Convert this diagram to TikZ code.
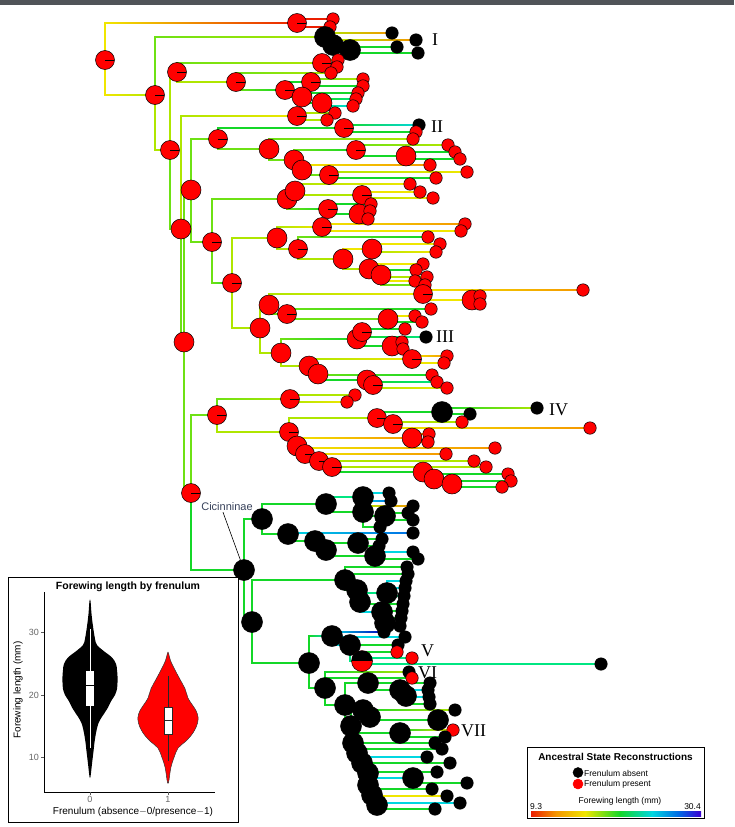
\documentclass[tikz,border=0pt]{standalone}
\usepackage{fontspec}
\setmainfont{Liberation Serif}
\newfontfamily\hel{Liberation Sans}
\usetikzlibrary{calc}
\definecolor{cR}{RGB}{235,30,0}
\definecolor{cO}{RGB}{245,150,0}
\definecolor{cY}{RGB}{240,230,0}
\definecolor{cYG}{RGB}{175,230,0}
\definecolor{cLG}{RGB}{110,225,20}
\definecolor{cG}{RGB}{20,215,40}
\definecolor{cGC}{RGB}{0,230,130}
\definecolor{cC}{RGB}{0,215,225}
\definecolor{cB}{RGB}{0,110,230}
\definecolor{cDB}{RGB}{0,0,190}
\definecolor{cPu}{RGB}{60,0,210}
\definecolor{topbar}{RGB}{80,84,88}
\definecolor{cictext}{RGB}{55,65,90}
\tikzset{
  edgebg/.style={draw=gray!60,line width=2.2pt,shift={(-0.7,0.9)}},
  dot/.style={circle,draw=black,line width=0.5pt,inner sep=0pt},
  tickmark/.style={path picture={\draw[line width=1pt] (path picture bounding box.center) -- (path picture bounding box.east);}},
  ri/.style={dot,fill=red,minimum size=19pt,tickmark},
  rI/.style={dot,fill=red,minimum size=20pt},
  rt/.style={dot,fill=red,minimum size=12.5pt},
  rh/.style={dot,fill=red,minimum size=21pt,path picture={\fill[black] (path picture bounding box.west) rectangle (path picture bounding box.north east);}},
  bi/.style={dot,fill=black,minimum size=21pt},
  bt/.style={dot,fill=black,minimum size=12.5pt},
  clab/.style={font=\fontsize{18}{18}\selectfont,anchor=west,inner sep=0pt},
  axlab/.style={font=\hel\fontsize{9}{9}\selectfont,text=gray!80!black,inner sep=1pt}
}
\newcommand\E[4]{%
  \draw[edgebg] (#1) |- (#2);
  \draw[draw=#3,line width=1.6pt] (#1) |- (#2);
  \coordinate (tc) at (#1 |- #2);
  \shade[left color=#3,right color=#4] ($(tc)+(0,-0.8)$) rectangle ($(#2)+(0,0.8)$);
}
\newcommand\nodelist{%
\N{R0}{105}{60}{ri}\N{A}{297}{23}{ri}\N{a1}{333}{19}{rt}\N{a2}{330}{27}{rt}
\N{B}{155}{95}{ri}\N{Ia}{325}{37}{bi}\N{Ib}{333}{45}{bi}\N{Ic}{350}{50}{bi}
\N{i1}{392}{33}{bt}\N{i2}{416}{40}{bt}\N{i3}{397}{47}{bt}\N{i4}{418}{53}{bt}
\N{C}{170}{150}{ri}\N{D}{177}{72}{ri}\N{D1}{322}{63}{ri}\N{d1}{338}{60}{rt}\N{d2}{337}{67}{rt}
\N{D2}{236}{82}{ri}\N{d3}{331}{73}{rt}\N{D3}{285}{90}{ri}\N{D4}{311}{82}{ri}\N{d4}{363}{79}{rt}\N{d5}{363}{86}{rt}
\N{D5}{302}{97}{rI}\N{D6}{322}{103}{rI}\N{d6}{358}{93}{rt}\N{d7}{356}{99}{rt}\N{d8}{353}{106}{rt}
\N{E}{181}{229}{rI}\N{G}{297}{116}{ri}\N{g1}{335}{113}{rt}\N{g2}{327}{120}{rt}
\N{H}{184}{342}{rI}\N{M}{191}{190}{rI}\N{N}{218}{139}{ri}\N{N1}{344}{128}{ri}\N{n1}{419}{125}{bt}\N{n2}{416}{132}{rt}
\N{N2}{269}{149}{rI}\N{n3}{413}{139}{rt}\N{N3}{294}{160}{rI}\N{N4}{356}{150}{ri}\N{n4}{448}{145}{rt}
\N{N5}{406}{156}{rI}\N{n5}{455}{152}{rt}\N{n6}{460}{159}{rt}\N{N6}{302}{170}{rI}\N{n7}{430}{165}{rt}
\N{N7}{329}{175}{ri}\N{n8}{467}{172}{rt}\N{n9}{436}{178}{rt}
\N{P}{212}{242}{ri}\N{Q}{287}{199}{rI}\N{Q0}{295}{191}{rI}\N{q1}{410}{184}{rt}\N{Q1}{362}{195}{ri}
\N{q2}{420}{192}{rt}\N{q3}{433}{198}{rt}\N{Q2}{328}{209}{ri}\N{Q3}{359}{214}{rI}\N{q4}{371}{204}{rt}\N{q5}{370}{211}{rt}\N{q6}{368}{219}{rt}
\N{S}{232}{283}{ri}\N{T}{277}{238}{rI}\N{T1}{322}{227}{ri}\N{t1}{465}{224}{rt}\N{t2}{461}{231}{rt}
\N{T2}{298}{249}{ri}\N{t3}{428}{237}{rt}\N{T3}{343}{259}{rI}\N{T4}{372}{249}{rI}\N{t4}{440}{244}{rt}\N{t5}{436}{252}{rt}
\N{T5}{369}{269}{rI}\N{T6}{381}{275}{rI}\N{t6}{423}{264}{rt}\N{t7}{416}{270}{rt}\N{t8}{427}{277}{rt}\N{t9}{415}{281}{rt}\N{t10}{425}{285}{rt}
\N{U}{260}{328}{rI}\N{U1}{269}{305}{rI}\N{U2}{423}{294}{ri}\N{u1}{583}{290}{rt}\N{U3}{472}{300}{rI}\N{u2}{480}{296}{rt}\N{u3}{480}{304}{rt}
\N{U4}{287}{314}{ri}\N{u4}{431}{309}{rt}\N{U5}{388}{319}{rI}\N{u5}{415}{316}{rt}\N{u6}{422}{322}{rt}
\N{K}{281}{353}{rI}\N{K1}{357}{339}{rI}\N{K2}{362}{332}{ri}\N{k1}{405}{329}{rt}\N{k2}{426}{337}{bt}
\N{K3}{392}{346}{rI}\N{k3}{402}{342}{rt}\N{k4}{403}{349}{rt}\N{K4}{309}{366}{rI}\N{K5}{318}{374}{rI}
\N{K6}{412}{359}{ri}\N{k5}{447}{356}{rt}\N{k6}{444}{363}{rt}\N{K7}{367}{380}{rI}\N{K8}{373}{385}{ri}
\N{k7}{432}{375}{rt}\N{k8}{437}{382}{rt}\N{k9}{447}{388}{rt}
\N{V}{191}{493}{ri}\N{W}{217}{415}{ri}\N{W1}{290}{399}{ri}\N{w1}{355}{395}{rt}\N{w2}{347}{402}{rt}
\N{W2}{289}{432}{ri}\N{W3}{377}{418}{ri}\N{W4}{442}{412}{bi}\N{w3}{537}{408}{bt}\N{w4}{470}{414}{bt}
\N{W5}{393}{424}{ri}\N{w5}{462}{422}{rt}\N{w6}{590}{428}{rt}\N{W6}{412}{438}{rI}\N{w7}{429}{434}{rt}\N{w8}{428}{442}{rt}
\N{W7}{297}{446}{rI}\N{w9}{495}{448}{rt}\N{W8}{305}{454}{ri}\N{w10}{446}{454}{rt}\N{W9}{319}{461}{ri}\N{w11}{474}{461}{rt}
\N{W10}{332}{467}{ri}\N{w12}{486}{467}{rt}\N{W11}{423}{472}{rI}\N{w13}{508}{474}{rt}\N{W12}{434}{479}{rI}\N{w14}{511}{481}{rt}
\N{W13}{452}{484}{rI}\N{w15}{502}{487}{rt}
\N{Ci}{244}{570}{bi}\N{X}{262}{519}{bi}\N{X1}{326}{504}{bi}\N{X2}{363}{497}{bi}\N{x1}{389}{493}{bt}\N{x2}{391}{501}{bt}
\N{X3}{363}{512}{bi}\N{x3}{413}{506}{bt}\N{X4}{385}{516}{bi}\N{x4}{408}{513}{bt}\N{x5}{413}{520}{bt}\N{x6}{380}{527}{bt}
\N{X5}{288}{534}{bi}\N{X6}{315}{541}{bi}\N{x7}{413}{533}{bt}\N{X7}{358}{543}{bi}\N{x8}{382}{539}{bt}\N{x9}{379}{546}{bt}
\N{X8}{326}{550}{bi}\N{X9}{375}{556}{bi}\N{x10}{413}{552}{bt}\N{x11}{418}{559}{bt}
\N{Y}{252}{622}{bi}\N{Y1}{345}{580}{bi}\N{Y2}{357}{590}{bi}\N{Y3}{360}{602}{bi}\N{y1}{407}{567}{bt}\N{y2}{408}{574}{bt}
\N{Y4}{387}{593}{bi}\N{y3}{406}{581}{bt}\N{y4}{405}{588}{bt}\N{y5}{404}{596}{bt}\N{Y5}{382}{612}{bi}\N{y6}{403}{604}{bt}
\N{y7}{402}{611}{bt}\N{Y6}{385}{623}{bi}\N{y8}{401}{618}{bt}\N{y9}{400}{626}{bt}
\N{Z}{309}{663}{bi}\N{Z1}{332}{636}{bi}\N{z1}{384}{632}{bt}\N{z2}{405}{637}{bt}\N{Z2}{350}{645}{bi}\N{z3}{398}{645}{bt}
\N{Z3}{362}{661}{rh}\N{z4}{397}{652}{rt}\N{z5}{412}{658}{rt}\N{z6}{601}{664}{bt}
\N{Z4}{325}{688}{bi}\N{z7}{409}{672}{bt}\N{z8}{412}{678}{rt}\N{Z5}{345}{705}{bi}\N{Z6}{368}{683}{bi}\N{z9}{430}{683}{bt}
\N{Z7}{400}{690}{bi}\N{Z8}{406}{696}{bi}\N{z10}{428}{690}{bt}\N{z11}{429}{697}{bt}\N{z12}{430}{704}{bt}
\N{Z9}{351}{726}{bi}\N{Z10}{363}{710}{bi}\N{z13}{455}{710}{bt}\N{Z11}{370}{717}{bi}\N{Z12}{438}{720}{bi}
\N{Z13}{353}{743}{bi}\N{Z14}{400}{733}{bi}\N{z15}{453}{730}{rt}\N{z16}{445}{737}{bt}
\N{Z15}{357}{753}{bi}\N{z17}{435}{743}{bt}\N{z18}{442}{749}{bt}\N{Z16}{362}{763}{bi}\N{z19}{427}{757}{bt}\N{z20}{450}{763}{bt}
\N{Z17}{368}{773}{bi}\N{Z18}{413}{778}{bi}\N{z21}{437}{772}{bt}\N{z22}{467}{783}{bt}
\N{Z19}{368}{785}{bi}\N{z23}{432}{789}{bt}\N{Z20}{372}{795}{bi}\N{z24}{447}{796}{bt}\N{Z21}{377}{805}{bi}\N{z25}{460}{803}{bt}\N{z26}{435}{809}{bt}
}
\begin{document}
\begin{tikzpicture}[x=1pt,y=-1pt]
\useasboundingbox (0,0) rectangle (734,827);
\fill[topbar] (0,0) rectangle (734,5);
% pass 1: coordinates
\def\N#1#2#3#4{\coordinate (#1) at (#2,#3);}
\nodelist
% edges
\E{R0}{A}{cY}{cR}\E{A}{a1}{cR}{cR}\E{A}{a2}{cR}{cR}
\E{R0}{B}{cY}{cYG}\E{B}{Ia}{cLG}{cYG}\E{Ia}{i1}{cYG}{cO}\E{Ia}{Ib}{cLG}{cLG}
\E{Ib}{i2}{cYG}{cO}\E{Ib}{Ic}{cG}{cG}\E{Ic}{i3}{cG}{cG}\E{Ic}{i4}{cG}{cG}
\E{B}{C}{cYG}{cYG}\E{C}{D}{cYG}{cYG}\E{D}{D1}{cLG}{cYG}\E{D1}{d1}{cY}{cY}\E{D1}{d2}{cY}{cY}
\E{D}{D2}{cYG}{cYG}\E{D2}{d3}{cLG}{cYG}\E{D2}{D3}{cLG}{cG}\E{D3}{D4}{cG}{cG}\E{D4}{d4}{cLG}{cYG}\E{D4}{d5}{cG}{cG}
\E{D3}{D5}{cG}{cG}\E{D5}{D6}{cG}{cG}\E{D5}{d6}{cG}{cG}\E{D6}{d7}{cG}{cGC}\E{D6}{d8}{cGC}{cC}
\E{C}{E}{cLG}{cLG}\E{E}{G}{cYG}{cY}\E{G}{g1}{cYG}{cYG}\E{G}{g2}{cYG}{cYG}
\E{E}{H}{cLG}{cLG}\E{H}{M}{cLG}{cLG}\E{M}{N}{cLG}{cLG}\E{N}{N1}{cG}{cG}\E{N1}{n1}{cG}{cC}\E{N1}{n2}{cG}{cG}
\E{N}{N2}{cLG}{cLG}\E{N2}{n3}{cLG}{cYG}\E{N2}{N3}{cLG}{cLG}\E{N3}{N4}{cLG}{cG}\E{N4}{n4}{cLG}{cYG}
\E{N4}{N5}{cG}{cG}\E{N5}{n5}{cG}{cG}\E{N5}{n6}{cG}{cG}\E{N3}{N6}{cLG}{cLG}\E{N6}{n7}{cY}{cO}
\E{N6}{N7}{cLG}{cLG}\E{N7}{n8}{cYG}{cY}\E{N7}{n9}{cG}{cG}
\E{M}{P}{cLG}{cLG}\E{P}{Q}{cLG}{cLG}\E{Q}{Q0}{cLG}{cLG}\E{Q0}{q1}{cYG}{cY}\E{Q}{Q1}{cYG}{cYG}
\E{Q1}{q2}{cY}{cY}\E{Q1}{q3}{cYG}{cY}\E{Q}{Q2}{cLG}{cG}\E{Q2}{Q3}{cG}{cG}\E{Q2}{q4}{cG}{cG}\E{Q3}{q5}{cG}{cG}\E{Q3}{q6}{cG}{cG}
\E{P}{S}{cLG}{cG}\E{S}{T}{cYG}{cYG}\E{T}{T1}{cYG}{cY}\E{T1}{t1}{cY}{cO}\E{T1}{t2}{cY}{cY}
\E{T}{T2}{cYG}{cYG}\E{T2}{t3}{cLG}{cG}\E{T2}{T3}{cYG}{cYG}\E{T3}{T4}{cY}{cY}\E{T4}{t4}{cY}{cY}\E{T4}{t5}{cYG}{cY}
\E{T3}{T5}{cYG}{cYG}\E{T5}{T6}{cY}{cY}\E{T5}{t6}{cY}{cY}\E{T5}{t7}{cG}{cG}\E{T6}{t8}{cYG}{cYG}\E{T6}{t9}{cY}{cY}\E{T6}{t10}{cLG}{cLG}
\E{S}{U}{cYG}{cYG}\E{U}{U1}{cYG}{cYG}\E{U1}{U2}{cYG}{cY}\E{U2}{u1}{cY}{cO}\E{U2}{U3}{cY}{cY}\E{U3}{u2}{cY}{cY}\E{U3}{u3}{cY}{cY}
\E{U1}{U4}{cLG}{cLG}\E{U4}{u4}{cLG}{cG}\E{U4}{U5}{cLG}{cLG}\E{U5}{u5}{cY}{cY}\E{U5}{u6}{cG}{cG}
\E{U}{K}{cYG}{cYG}\E{K}{K1}{cLG}{cG}\E{K1}{K2}{cG}{cG}\E{K2}{k1}{cG}{cG}\E{K2}{k2}{cG}{cGC}
\E{K1}{K3}{cG}{cG}\E{K3}{k3}{cG}{cG}\E{K3}{k4}{cG}{cG}\E{K}{K4}{cYG}{cYG}\E{K4}{K5}{cYG}{cYG}
\E{K4}{K6}{cYG}{cY}\E{K6}{k5}{cY}{cO}\E{K6}{k6}{cY}{cY}\E{K5}{K7}{cG}{cG}\E{K7}{K8}{cG}{cG}
\E{K5}{k7}{cLG}{cG}\E{K7}{k8}{cG}{cGC}\E{K8}{k9}{cYG}{cY}
\E{H}{V}{cLG}{cG}\E{V}{W}{cLG}{cLG}\E{W}{W1}{cLG}{cYG}\E{W1}{w1}{cYG}{cYG}\E{W1}{w2}{cYG}{cY}
\E{W}{W2}{cYG}{cYG}\E{W2}{W3}{cYG}{cYG}\E{W3}{W4}{cG}{cG}\E{W4}{w3}{cG}{cYG}\E{W4}{w4}{cG}{cG}
\E{W3}{W5}{cYG}{cYG}\E{W5}{w5}{cYG}{cYG}\E{W5}{w6}{cY}{cO}\E{W2}{W6}{cY}{cO}\E{W6}{w7}{cO}{cO}\E{W6}{w8}{cO}{cO}
\E{W2}{W7}{cYG}{cYG}\E{W7}{w9}{cY}{cO}\E{W7}{W8}{cYG}{cYG}\E{W8}{w10}{cY}{cO}\E{W8}{W9}{cYG}{cYG}\E{W9}{w11}{cYG}{cYG}
\E{W9}{W10}{cYG}{cYG}\E{W10}{w12}{cYG}{cYG}\E{W10}{W11}{cG}{cG}\E{W11}{w13}{cG}{cG}\E{W11}{W12}{cG}{cG}\E{W12}{w14}{cG}{cG}
\E{W12}{W13}{cG}{cG}\E{W13}{w15}{cG}{cG}
\E{V}{Ci}{cG}{cG}\E{Ci}{X}{cG}{cG}\E{X}{X1}{cG}{cG}\E{X1}{X2}{cGC}{cGC}\E{X2}{x1}{cC}{cC}\E{X2}{x2}{cC}{cB}
\E{X1}{X3}{cG}{cG}\E{X3}{x3}{cYG}{cO}\E{X3}{X4}{cG}{cG}\E{X4}{x4}{cG}{cG}\E{X4}{x5}{cG}{cG}\E{X3}{x6}{cG}{cG}
\E{X}{X5}{cG}{cG}\E{X5}{X6}{cG}{cG}\E{X5}{x7}{cC}{cB}\E{X6}{X7}{cG}{cG}\E{X7}{x8}{cG}{cG}\E{X7}{x9}{cG}{cG}
\E{X6}{X8}{cG}{cG}\E{X8}{X9}{cG}{cG}\E{X9}{x10}{cC}{cC}\E{X9}{x11}{cG}{cG}
\E{Ci}{Y}{cG}{cG}\E{Y}{Y1}{cG}{cG}\E{Y1}{Y2}{cG}{cG}\E{Y2}{Y3}{cGC}{cGC}\E{Y1}{y1}{cG}{cG}\E{Y1}{y2}{cG}{cG}
\E{Y2}{Y4}{cGC}{cGC}\E{Y4}{y3}{cC}{cC}\E{Y4}{y4}{cC}{cC}\E{Y4}{y5}{cGC}{cGC}\E{Y3}{Y5}{cC}{cC}\E{Y3}{y6}{cG}{cG}
\E{Y5}{y7}{cG}{cG}\E{Y5}{Y6}{cG}{cG}\E{Y6}{y8}{cG}{cG}\E{Y6}{y9}{cG}{cG}
\E{Y}{Z}{cG}{cG}\E{Z}{Z1}{cG}{cC}\E{Z1}{z1}{cC}{cDB}\E{Z1}{z2}{cC}{cC}\E{Z1}{Z2}{cC}{cC}\E{Z2}{z3}{cG}{cG}
\E{Z2}{Z3}{cGC}{cGC}\E{Z2}{z4}{cG}{cG}\E{Z3}{z5}{cGC}{cGC}\E{Z3}{z6}{cGC}{cGC}
\E{Z}{Z4}{cG}{cG}\E{Z4}{z7}{cG}{cYG}\E{Z4}{z8}{cG}{cG}\E{Z4}{Z5}{cG}{cG}\E{Z5}{Z6}{cG}{cG}\E{Z6}{z9}{cG}{cG}
\E{Z6}{Z7}{cG}{cG}\E{Z7}{Z8}{cC}{cC}\E{Z7}{z10}{cC}{cC}\E{Z8}{z11}{cC}{cC}\E{Z8}{z12}{cG}{cG}
\E{Z5}{Z9}{cG}{cG}\E{Z9}{Z10}{cG}{cG}\E{Z10}{z13}{cG}{cYG}\E{Z10}{Z11}{cG}{cG}\E{Z11}{Z12}{cG}{cG}
\E{Z9}{Z13}{cG}{cG}\E{Z13}{Z14}{cG}{cG}\E{Z14}{z15}{cG}{cY}\E{Z14}{z16}{cG}{cG}
\E{Z13}{Z15}{cG}{cG}\E{Z15}{z17}{cG}{cG}\E{Z15}{z18}{cG}{cG}\E{Z15}{Z16}{cG}{cG}\E{Z16}{z19}{cC}{cC}\E{Z16}{z20}{cG}{cG}
\E{Z16}{Z17}{cG}{cG}\E{Z17}{Z18}{cC}{cC}\E{Z17}{z21}{cG}{cG}\E{Z18}{z22}{cG}{cG}
\E{Z17}{Z19}{cG}{cG}\E{Z19}{z23}{cG}{cG}\E{Z19}{Z20}{cG}{cG}\E{Z20}{z24}{cY}{cY}\E{Z20}{Z21}{cG}{cG}\E{Z21}{z25}{cC}{cC}\E{Z21}{z26}{cG}{cG}
% pass 2: nodes
\def\N#1#2#3#4{\node[#4] (v-#1) at (#1) {};}
\nodelist
% clade labels
\node[clab] (lI) at (432,40) {I};
\node[clab] (lII) at (431,127) {II};
\node[clab] (lIII) at (436,337) {III};
\node[clab] (lIV) at (549,410) {IV};
\node[clab] (lV) at (421,651) {V};
\node[clab] (lVI) at (418,673) {VI};
\node[clab] (lVII) at (461,731) {VII};
% Cicinninae
\node[font=\hel\fontsize{11}{11}\selectfont,text=cictext,inner sep=1pt] (cic) at (227,507) {Cicinninae};
\draw[line width=0.6pt] ([xshift=-4pt]cic.south) -- (v-Ci);
% ---------- inset violin plot ----------
\node[draw=black,line width=0.8pt,fill=white,minimum width=230pt,minimum height=245pt,inner sep=0pt] (inset) at (123,700) {};
\node[font=\hel\bfseries\fontsize{10.5}{10.5}\selectfont,inner sep=0pt] (vtitle) at (128,587) {Forewing length by frenulum};
\coordinate (ax0) at (44,792);
\coordinate (axtop) at (44,592);
\coordinate (axright) at (215,792);
\draw[line width=0.6pt] (axtop) -- (ax0) -- (axright);
\foreach \v/\yy in {30/632.5,20/695,10/757.5}{
  \draw[line width=0.6pt,gray!70!black] (41,\yy) -- (44,\yy);
  \node[axlab,anchor=east] (yt\v) at (40,\yy) {\v};
}
\draw[line width=0.6pt,gray!70!black] (90,792) -- (90,795);
\draw[line width=0.6pt,gray!70!black] (168,792) -- (168,795);
\node[axlab,anchor=north] (xt0) at (90,795) {0};
\node[axlab,anchor=north] (xt1) at (168,795) {1};
\node[font=\hel\fontsize{10}{10}\selectfont,rotate=90,inner sep=0pt] (ytitle) at (18,690) {Forewing length (mm)};
\node[font=\hel\fontsize{10}{10}\selectfont,inner sep=0pt] (xtitle) at (133,812) {Frenulum (absence$-$0/presence$-$1)};
% black violin
\fill[black] plot[smooth cycle,tension=0.6] coordinates {
 (90.5,601) (91.5,613.75) (93,626.25) (95,638.75) (97,645) (104,651.25) (112,657.5) (116,663.75) (117,670) (117.5,676.25)
 (117.5,682.5) (117,688.75) (115,695) (111,701.25) (108,707.5) (104,713.75) (100,720) (97.5,726.25) (95,738.75) (93.5,751.25)
 (92,763.75) (90.5,776.5) (89.5,776.5)
 (88,763.75) (86.5,751.25) (85,738.75) (82.5,726.25) (80,720) (76,713.75) (72,707.5) (69,701.25) (65,695) (63,688.75)
 (62.5,682.5) (62.5,676.25) (63,670) (64,663.75) (68,657.5) (76,651.25) (83,645) (85,638.75) (87,626.25) (88.5,613.75) (89.5,601)};
\draw[white,line width=1pt] (90,748) -- (90,629.4);
\fill[white] (86,671.25) rectangle (94,705.6);
\draw[black,line width=0.5pt] (86,685.6) -- (94,685.6);
% red violin  y(v)=695-(v-20)*6.25
\filldraw[fill=red,draw=gray!40!black,line width=0.5pt] plot[smooth cycle,tension=0.6] coordinates {
 (168.5,653.1) (170.5,660.6) (175,670) (180,679.4) (185,688.75) (188,698.1) (192,704.4) (196,710.6) (198,716.9) (197.5,723.1)
 (195,729.4) (191,735.6) (185,741.9) (178,748.1) (174,757.5) (171,766.9) (169.5,776.25) (168.5,782.5) (167.5,782.5)
 (166.5,776.25) (165,766.9) (162,757.5) (158,748.1) (151,741.9) (145,735.6) (141,729.4) (138.5,723.1) (138,716.9) (140,710.6)
 (144,704.4) (148,698.1) (151,688.75) (156,679.4) (161,670) (165.5,660.6) (167.5,653.1)};
\draw[gray!30!black,line width=0.9pt] (168,760.6) -- (168,676.25);
\filldraw[fill=white,draw=gray!30!black,line width=0.5pt] (164,707.5) rectangle (172,734.4);
\draw[gray!30!black,line width=0.5pt] (164,720) -- (172,720);
% ---------- legend ----------
\node[draw=black,line width=0.9pt,fill=white,minimum width=177pt,minimum height=71pt,inner sep=0pt] (legend) at (615.5,782.5) {};
\node[font=\hel\bfseries\fontsize{10}{10}\selectfont,inner sep=0pt] (ltitle) at (615.5,757) {Ancestral State Reconstructions};
\node[dot,fill=black,minimum size=10pt] (lb) at (578,772.5) {};
\node[dot,fill=red,draw=red,minimum size=10pt] (lr) at (578,784) {};
\node[font=\hel\fontsize{8.5}{8.5}\selectfont,anchor=west,inner sep=0pt] (lbt) at (584,773) {Frenulum absent};
\node[font=\hel\fontsize{8.5}{8.5}\selectfont,anchor=west,inner sep=0pt] (lrt) at (584,784.5) {Frenulum present};
\node[font=\hel\fontsize{8.5}{8.5}\selectfont,inner sep=0pt] (lfl) at (620,801.5) {Forewing length (mm)};
\node[font=\hel\fontsize{8.5}{8.5}\selectfont,anchor=west,inner sep=0pt] (lmin) at (530,806.5) {9.3};
\node[font=\hel\fontsize{8.5}{8.5}\selectfont,anchor=east,inner sep=0pt] (lmax) at (701,806.5) {30.4};
\shade[left color=cR,right color=cO] (531,811.5) rectangle (556,816);
\shade[left color=cO,right color=cY] (556,811.5) rectangle (585,816);
\shade[left color=cY,right color=cG] (585,811.5) rectangle (620,816);
\shade[left color=cG,right color=cC] (620,811.5) rectangle (652,816);
\shade[left color=cC,right color=cB] (652,811.5) rectangle (678,816);
\shade[left color=cB,right color=cPu] (678,811.5) rectangle (701,816);
\end{tikzpicture}
\end{document}
